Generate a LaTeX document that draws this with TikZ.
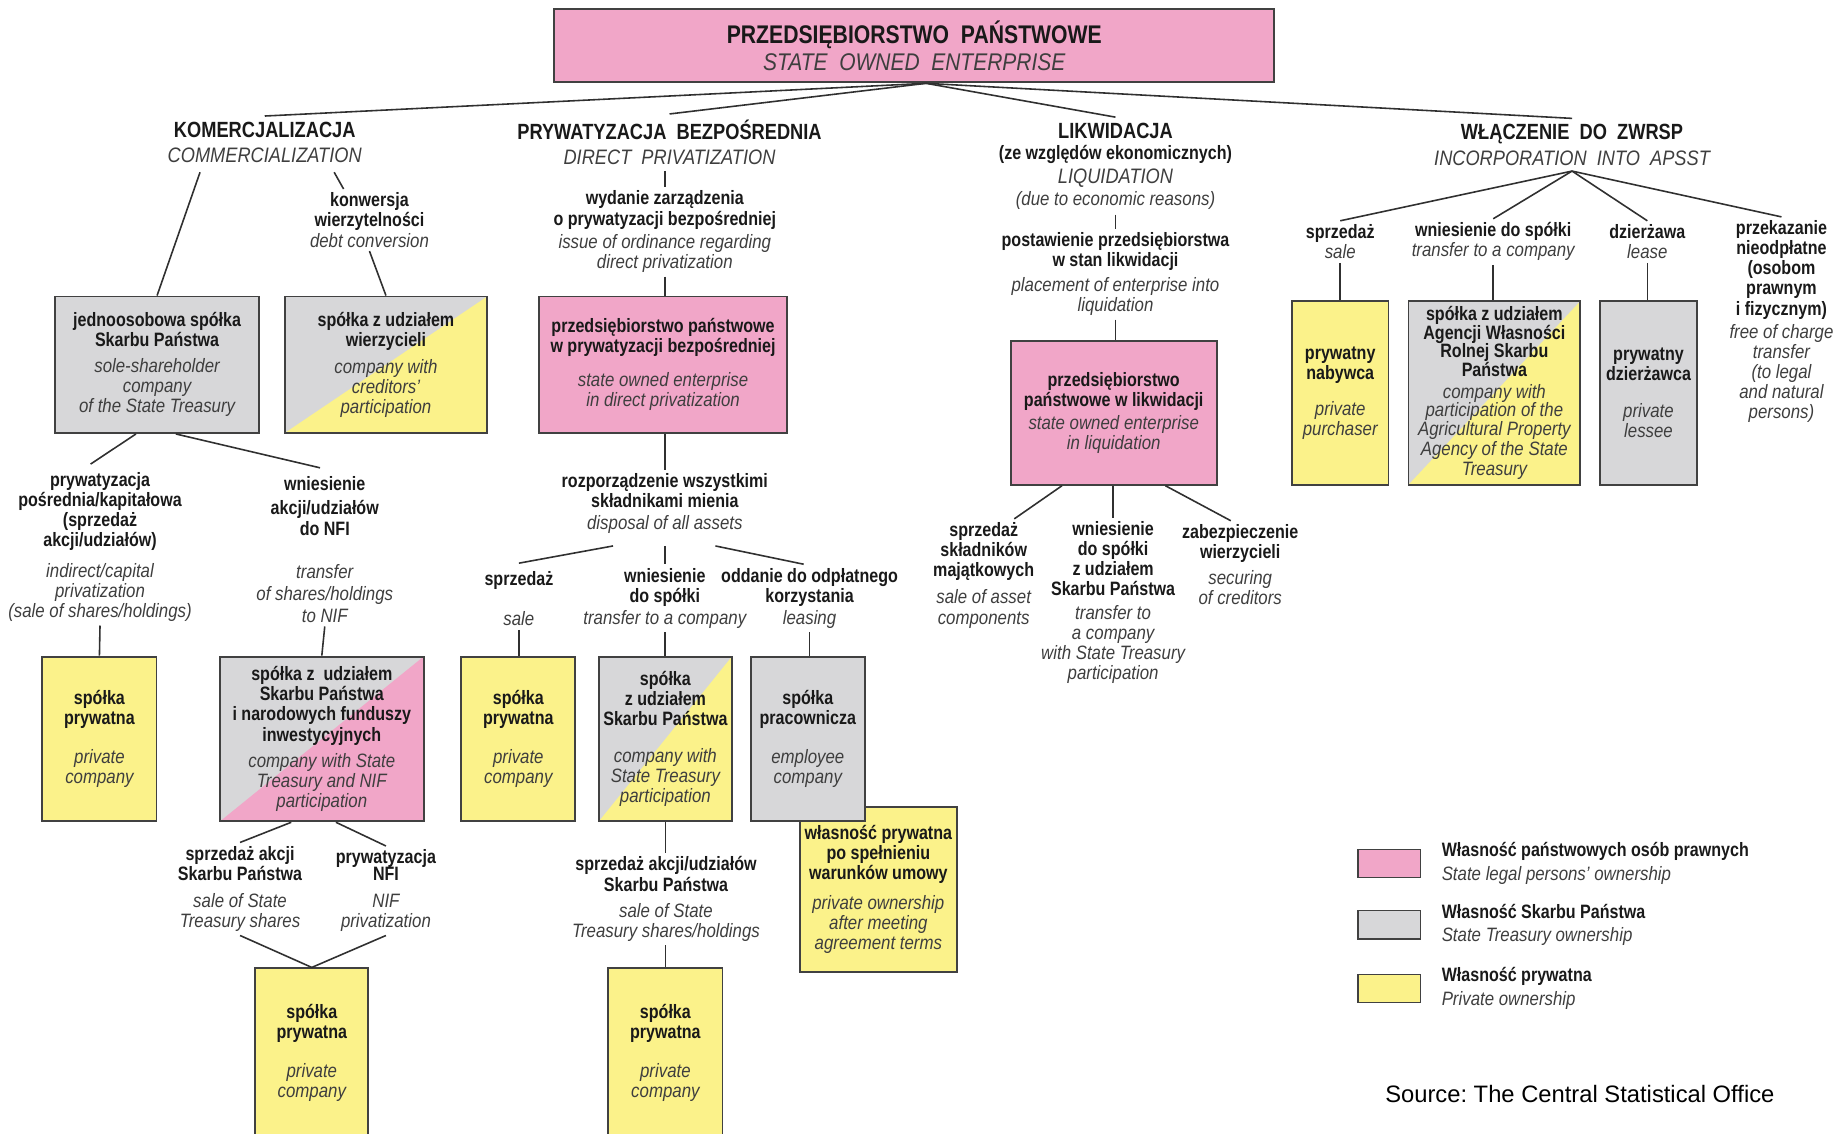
\documentclass[tikz,border=0pt]{standalone}
\usepackage{fontspec}
\setmainfont{Liberation Sans}[FakeStretch=0.83,
    ItalicFeatures={FakeStretch=0.87}, BoldItalicFeatures={FakeStretch=0.87}]
\newfontfamily\sourcefont{Liberation Sans}
\usetikzlibrary{calc}

\definecolor{pinkown}{RGB}{241,166,200}
\definecolor{grayown}{RGB}{215,215,217}
\definecolor{yellowown}{RGB}{251,242,138}
\definecolor{boxframe}{RGB}{65,65,65}
\definecolor{ink}{RGB}{25,25,25}
\definecolor{inkgray}{RGB}{62,62,62}

\newlength{\gu}
\setlength{\gu}{0.0235cm}

\newcommand{\bodyfont}{\fontsize{11}{11.4}\selectfont\lineskiplimit=-20pt}
\newcommand{\headfont}{\fontsize{12.5}{14.7}\selectfont\lineskiplimit=-20pt}
\newcommand{\titlefont}{\fontsize{14.5}{15.4}\selectfont\lineskiplimit=-20pt}
\newcommand{\pol}[1]{{\bfseries\color{ink}#1}}
\newcommand{\eng}[1]{{\itshape\color{inkgray}#1}}
\newcommand{\enghead}[1]{{\itshape\color{inkgray}\fontsize{11.9}{14.7}\selectfont#1}}

\begin{document}
\begin{tikzpicture}[x=\gu, y=-\gu,
    lbl/.style={font=\bodyfont, align=center, inner sep=2pt},
    head/.style={font=\headfont, align=center, inner sep=3pt},
    box/.style n args={2}{draw=boxframe, line width=1.1pt, font=\bodyfont, align=center,
        inner sep=1pt, minimum width={#1*\gu}, minimum height={#2*\gu}},
    split/.style={path picture={\fill[#1] (path picture bounding box.south west)
        -- (path picture bounding box.north east) -- (path picture bounding box.south east) -- cycle;}},
    link/.style={draw=ink!90, line width=0.9pt},
    ]
\useasboundingbox (0,0) rectangle (1568,963);

% Top
\node[box={612}{62}, fill=pinkown, font=\titlefont] (soe) at (777,39)
    {\pol{PRZEDSIĘBIORSTWO\ \ PAŃSTWOWE}\\{\itshape\color{inkgray}\fontsize{13.7}{15.4}\selectfont STATE\ \ OWNED\ \ ENTERPRISE}};

% Four ways
\node[head] (hcom) at (225,121) {\pol{KOMERCJALIZACJA}\\\enghead{COMMERCIALIZATION}};
\node[head] (hdir) at (569,121) {\pol{PRYWATYZACJA\ \ BEZPOŚREDNIA}\\\enghead{DIRECT\ \ PRIVATIZATION}};
\node[head] (hliq) at (948,141) {\pol{LIKWIDACJA}\\[-2.7pt]\pol{\bodyfont (ze względów ekonomicznych)}\\[-0.7pt]\enghead{LIQUIDATION}\\[-2.7pt]\eng{\bodyfont (due to economic reasons)}};
\node[head] (hinc) at (1336,123) {\pol{WŁĄCZENIE\ \ DO\ \ ZWRSP}\\\enghead{INCORPORATION\ \ INTO\ \ APSST}};

\foreach \h in {hcom,hdir,hliq,hinc} {
    \draw[link] ($(soe.south)+(10,0)$) -- (\h.north);
}

% Commercialization
\node[lbl] (konw) at (314,187) {\pol{konwersja}\\\pol{wierzytelności}\\\eng{debt conversion}};
\node[box={173}{116}, fill=grayown] (jedno) at (133.5,310) {\pol{jednoosobowa spółka}\\\pol{Skarbu Państwa}\\[3.4pt]\eng{sole-shareholder}\\\eng{company}\\\eng{of the State Treasury}};
\node[box={172}{116}, fill=grayown, split=yellowown] (wierz) at (328,310) {\pol{spółka z udziałem}\\\pol{wierzycieli}\\[4pt]\eng{company with}\\\eng{creditors'}\\\eng{participation}};
\draw[link] ($(hcom.south)+(-55,3)$) -- (jedno.north);
\draw[link] ($(hcom.south)+(59,3)$) -- ($(konw.north)+(-22,0)$);
\draw[link] (konw.south) -- (wierz.north);

\node[lbl] (posr) at (85,465) {\pol{prywatyzacja}\\\pol{pośrednia/kapitałowa}\\\pol{(sprzedaż}\\\pol{akcji/udziałów)}\\[6pt]\eng{indirect/capital}\\\eng{privatization}\\\eng{(sale of shares/holdings)}};
\node[lbl] (nfi) at (276,467) {\pol{wniesienie}\\[2pt]\pol{akcji/udziałów}\\[1pt]\pol{do NFI}\\[13pt]\eng{transfer}\\[1pt]\eng{of shares/holdings}\\[1pt]\eng{to NIF}};
\draw[link] ($(jedno.south)+(-18,0)$) -- ($(posr.north)+(-8,-4)$);
\draw[link] ($(jedno.south)+(16,0)$) -- ($(nfi.north)+(-4,-4)$);

\node[box={97}{140}, fill=yellowown] (prv1) at (84.5,628) {\pol{spółka}\\\pol{prywatna}\\[10.7pt]\eng{private}\\\eng{company}};
\node[box={173}{140}, fill=grayown, split=pinkown] (nfibox) at (273.5,628) {\pol{spółka z\ \ udziałem}\\\pol{Skarbu Państwa}\\\pol{i narodowych funduszy}\\\pol{inwestycyjnych}\\[3.4pt]\eng{company with State}\\\eng{Treasury and NIF}\\\eng{participation}};
\draw[link] (posr.south) -- (prv1.north);
\draw[link] (nfi.south) -- (nfibox.north);

\node[lbl] (sellst) at (204,755.5) {\pol{sprzedaż akcji}\\\pol{Skarbu Państwa}\\[4pt]\eng{sale of State}\\\eng{Treasury shares}};
\node[lbl] (privnfi) at (328,757) {\pol{prywatyzacja}\\[-2pt]\pol{NFI}\\[4pt]\eng{NIF}\\\eng{privatization}};
\draw[link] ($(nfibox.south)+(-26,0)$) -- (sellst.north);
\draw[link] ($(nfibox.south)+(12,0)$) -- (privnfi.north);

\node[box={96}{144}, fill=yellowown] (prv2) at (265,895) {\pol{spółka}\\\pol{prywatna}\\[10.7pt]\eng{private}\\\eng{company}};
\draw[link] (sellst.south) -- (prv2.north);
\draw[link] (privnfi.south) -- (prv2.north);

% Direct privatization
\node[lbl] (ord) at (565,197) {\pol{wydanie zarządzenia}\\\pol{o prywatyzacji bezpośredniej}\\[2pt]\eng{issue of ordinance regarding}\\\eng{direct privatization}};
\node[box={211}{116}, fill=pinkown] (dirsoe) at (563.5,310) {\pol{przedsiębiorstwo państwowe}\\\pol{w prywatyzacji bezpośredniej}\\[8pt]\eng{state owned enterprise}\\\eng{in direct privatization}};
\node[lbl] (disp) at (565,428) {\pol{rozporządzenie wszystkimi}\\\pol{składnikami mienia}\\[1.3pt]\eng{disposal of all assets}};
\draw[link] (hdir.south -| ord.north) -- (ord.north);
\draw[link] (ord.south) -- (ord.south |- dirsoe.north);
\draw[link] (disp.north |- dirsoe.south) -- (disp.north);

\node[lbl] (dsale) at (441,509) {\pol{sprzedaż}\\[11.4pt]\eng{sale}};
\node[lbl] (dtrans) at (565,508.5) {\pol{wniesienie}\\\pol{do spółki}\\[1.3pt]\eng{transfer to a company}};
\node[lbl] (dlease) at (688,508.5) {\pol{oddanie do odpłatnego}\\\pol{korzystania}\\[1.3pt]\eng{leasing}};
\draw[link] ($(disp.south)+(-44,7)$) -- ($(dsale.north)+(0,-4)$);
\draw[link] ($(disp.south)+(0,7)$) -- (dtrans.north);
\draw[link] ($(disp.south)+(43,7)$) -- ($(dlease.north)+(-5,0)$);

\node[box={97}{140}, fill=yellowown] (prv3) at (440.5,628) {\pol{spółka}\\\pol{prywatna}\\[10.7pt]\eng{private}\\\eng{company}};
\node[box={113}{140}, fill=grayown, split=yellowown] (stbox) at (565.5,628) {\pol{spółka}\\\pol{z udziałem}\\\pol{Skarbu Państwa}\\[9.4pt]\eng{company with}\\\eng{State Treasury}\\\eng{participation}};
\node[box={133}{140}, fill=yellowown] (afterown) at (746.5,756) {\pol{własność prywatna}\\\pol{po spełnieniu}\\\pol{warunków umowy}\\[5.4pt]\eng{private ownership}\\\eng{after meeting}\\\eng{agreement terms}};
\node[box={97}{140}, fill=grayown] (empl) at (686.5,628) {\pol{spółka}\\\pol{pracownicza}\\[10.7pt]\eng{employee}\\\eng{company}};
\draw[link] (dsale.south) -- (dsale.south |- prv3.north);
\draw[link] (dtrans.south) -- (dtrans.south |- stbox.north);
\draw[link] (dlease.south) -- (dlease.south |- empl.north);

\node[lbl] (sellsh) at (566,764) {\pol{sprzedaż akcji/udziałów}\\\pol{Skarbu Państwa}\\[3.4pt]\eng{sale of State}\\\eng{Treasury shares/holdings}};
\node[box={97}{144}, fill=yellowown] (prv4) at (565.5,895) {\pol{spółka}\\\pol{prywatna}\\[10.7pt]\eng{private}\\\eng{company}};
\draw[link] (stbox.south) -- (stbox.south |- sellsh.north);
\draw[link] (prv4.north |- sellsh.south) -- (prv4.north);

% Liquidation
\node[lbl] (plac) at (948,233) {\pol{postawienie przedsiębiorstwa}\\\pol{w stan likwidacji}\\[2.7pt]\eng{placement of enterprise into}\\\eng{liquidation}};
\node[box={175}{122}, fill=pinkown] (liqsoe) at (946.5,351) {\pol{przedsiębiorstwo}\\\pol{państwowe w likwidacji}\\[2pt]\eng{state owned enterprise}\\\eng{in liquidation}};
\draw[link] (hliq.south) -- (plac.north);
\draw[link] (plac.south) -- (plac.south |- liqsoe.north);

\node[lbl] (lsale) at (836,489) {\pol{sprzedaż}\\\pol{składników}\\\pol{majątkowych}\\[4pt]\eng{sale of asset}\\\eng{components}};
\node[lbl] (ltrans) at (946,512) {\pol{wniesienie}\\\pol{do spółki}\\\pol{z udziałem}\\\pol{Skarbu Państwa}\\[2pt]\eng{transfer to}\\\eng{a company}\\\eng{with State Treasury}\\\eng{participation}};
\node[lbl] (lsec) at (1054,480) {\pol{zabezpieczenie}\\\pol{wierzycieli}\\[3.4pt]\eng{securing}\\\eng{of creditors}};
\draw[link] ($(liqsoe.south)+(-44,0)$) -- ($(lsale.north)+(26,0)$);
\draw[link] (ltrans.north |- liqsoe.south) -- (ltrans.north);
\draw[link] ($(liqsoe.south)+(44,0)$) -- ($(lsec.north)+(-8,0)$);

% Incorporation into APSST
\node[lbl] (isale) at (1139,205.5) {\pol{sprzedaż}\\\eng{sale}};
\node[lbl] (itrans) at (1269,205.5) {\pol{wniesienie do spółki}\\\eng{transfer to a company}};
\node[lbl] (ilease) at (1400,205.5) {\pol{dzierżawa}\\\eng{lease}};
\node[lbl] (ifree) at (1514,273.5) {\pol{przekazanie}\\\pol{nieodpłatne}\\\pol{(osobom}\\\pol{prawnym}\\\pol{i fizycznym)}\\[2pt]\eng{free of charge}\\\eng{transfer}\\\eng{(to legal}\\\eng{and natural}\\\eng{persons)}};
\foreach \i in {isale,itrans,ilease,ifree} {
    \draw[link] (hinc.south) -- (\i.north);
}

\node[box={82}{156}, fill=yellowown] (buyer) at (1139,334) {\pol{prywatny}\\\pol{nabywca}\\[8.7pt]\eng{private}\\\eng{purchaser}};
\node[box={146}{156}, fill=grayown, split=yellowown] (agency) at (1270,334) {\pol{spółka z udziałem}\\[-0.7pt]\pol{Agencji Własności}\\[-0.7pt]\pol{Rolnej Skarbu}\\[-0.7pt]\pol{Państwa}\\[0.7pt]\eng{company with}\\[-0.7pt]\eng{participation of the}\\[-0.7pt]\eng{Agricultural Property}\\\eng{Agency of the State}\\\eng{Treasury}};
\node[box={82}{156}, fill=grayown] (lessee) at (1401,334) {\pol{prywatny}\\\pol{dzierżawca}\\[9.4pt]\eng{private}\\\eng{lessee}};
\draw[link] (isale.south) -- (isale.south |- buyer.north);
\draw[link] (itrans.south) -- (itrans.south |- agency.north);
\draw[link] (ilease.south) -- (ilease.south |- lessee.north);

% Legend
\foreach \col/\ypos/\pltxt/\entxt [count=\k] in {
    pinkown/734/Własność państwowych osób prawnych/State legal persons' ownership,
    grayown/786/Własność Skarbu Państwa/State Treasury ownership,
    yellowown/840/Własność prywatna/Private ownership} {
    \node[box={53}{24}, fill=\col, line width=0.8pt] (leg\k) at (1180.5,\ypos) {};
    \node[lbl, anchor=west, align=left] (legtxt\k) at (1222,\ypos) {\pol{\pltxt}\\[2pt]\eng{\entxt}};
}

% Source
\node[anchor=west, inner sep=0pt, font=\sourcefont\fontsize{13.5}{16}\selectfont\frenchspacing] (src) at (1177,930) {Source: The Central Statistical Office};

\end{tikzpicture}
\end{document}
